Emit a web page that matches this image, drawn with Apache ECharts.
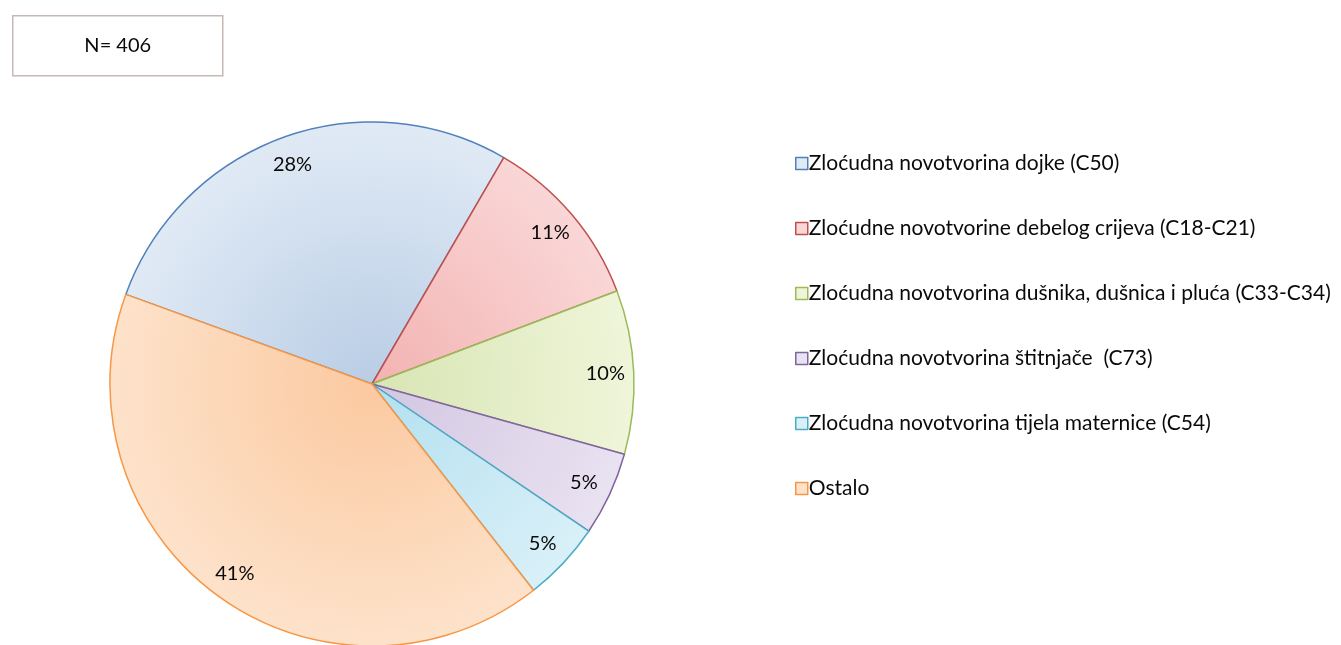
<!DOCTYPE html>
<html>
<head>
<meta charset="utf-8">
<script src="https://cdn.jsdelivr.net/npm/echarts@6/dist/echarts.min.js"></script>
<style>
  html, body { margin: 0; padding: 0; background: #fff; }
  #main { width: 1341px; height: 645px; }
</style>
</head>
<body>
<div id="main"></div>
<script>
// podaci
var categories = [
  'Zloćudna novotvorina dojke (C50)',
  'Zloćudne novotvorine debelog crijeva (C18-C21)',
  'Zloćudna novotvorina dušnika, dušnica i pluća (C33-C34)',
  'Zloćudna novotvorina štitnjače  (C73)',
  'Zloćudna novotvorina tijela maternice (C54)',
  'Ostalo'
];
var counts = [113, 44, 41, 21, 20, 167];
var totalLabel = 'N= 406';

var borderColors = ['#4f81bd', '#c0504d', '#9bbb59', '#8064a2', '#4bacc6', '#f79646'];
var innerColors  = ['#b9cde5', '#f2b3b2', '#d8e5b3', '#d2c6e1', '#b3e0ef', '#fbc9a0'];
var outerColors  = ['#e0eaf5', '#fad6d6', '#eff5d9', '#e9e2f1', '#d9f0f8', '#fde2ca'];

var cx = 372, cy = 384, R = 262;

function grad(i) {
  return {
    type: 'radial', x: cx, y: cy, r: R, global: true,
    colorStops: [{offset: 0, color: innerColors[i]}, {offset: 1, color: outerColors[i]}]
  };
}

var pieData = categories.map(function (name, i) {
  return {
    name: name, value: counts[i],
    itemStyle: {color: grad(i), borderColor: borderColors[i], borderWidth: 1.5}
  };
});
var labelData = categories.map(function (name, i) {
  return {name: name, value: counts[i]};
});
var legendData = categories.map(function (name, i) {
  return {name: name, itemStyle: {color: outerColors[i], borderColor: borderColors[i], borderWidth: 1.5}};
});

var myChart = echarts.init(document.getElementById('main'));
var option = {
  animation: false,
  textStyle: {fontFamily: 'Lato'},
  legend: {
    orient: 'vertical',
    left: 790,
    top: 148,
    itemWidth: 12,
    itemHeight: 12,
    itemGap: 44,
    icon: 'rect',
    data: legendData,
    textStyle: {fontSize: 21, color: '#0a0a0a', fontFamily: 'Lato', padding: [0, 0, 0, -4]}
  },
  graphic: [{
    type: 'group', left: 12, top: 15,
    children: [
      {type: 'rect', shape: {x: 0, y: 0, width: 210, height: 60},
       style: {fill: '#fff', stroke: '#c4b9b4', lineWidth: 1.5}},
      {type: 'text', x: 105, y: 30,
       style: {text: totalLabel, fontSize: 20, fontFamily: 'Lato', fill: '#0a0a0a',
               align: 'center', verticalAlign: 'middle'}}
    ]
  }],
  series: [{
    type: 'pie',
    center: [cx, cy],
    radius: [0, R],
    startAngle: 160,
    clockwise: true,
    silent: true,
    label: {show: false},
    labelLine: {show: false},
    data: pieData
  }, {
    type: 'pie',
    center: [cx, cy],
    radius: [R * 0.76, R],
    startAngle: 160,
    clockwise: true,
    silent: true,
    itemStyle: {color: 'rgba(0,0,0,0)', borderWidth: 0},
    label: {
      show: true, position: 'inside', fontSize: 20, color: '#0a0a0a', fontFamily: 'Lato',
      formatter: function (p) { return Math.round(p.percent) + '%'; }
    },
    labelLine: {show: false},
    data: labelData
  }]
};
myChart.setOption(option);
</script>
</body>
</html>
